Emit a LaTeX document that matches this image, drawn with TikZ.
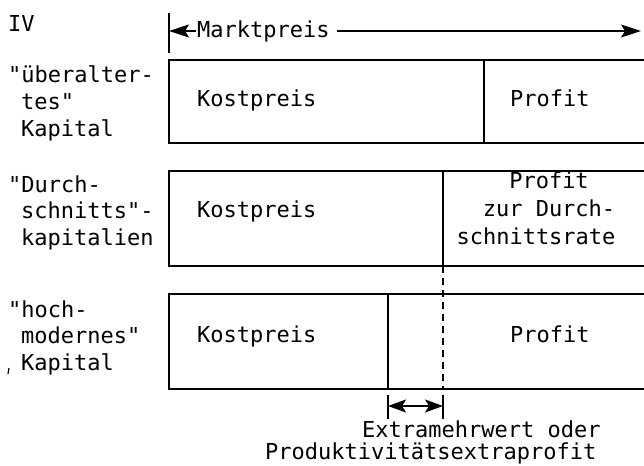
\documentclass[tikz,border=0pt]{standalone}
\usepackage{fontspec}
\setmonofont{DejaVu Sans Mono}
\usetikzlibrary{arrows.meta}
\begin{document}
\begin{tikzpicture}[x=1pt,y=-1pt,
  txt/.style={font=\ttfamily\fontsize{22}{27}\selectfont, inner sep=0pt, anchor=base west},
  boxline/.style={line width=2pt},
  thinline/.style={line width=1.5pt},
  tipend/.style={-{Stealth[length=20pt,width=13pt,inset=4pt]}},
  tipstart/.style={{Stealth[length=20pt,width=13pt,inset=4pt]}-},
  tipboth/.style={{Stealth[length=18pt,width=13pt,inset=4pt]}-{Stealth[length=18pt,width=13pt,inset=4pt]}}]
\useasboundingbox[fill=white] (0,0) rectangle (644,465);

% header
\node[txt] (iv) at (8,32) {IV};
\node[txt] (mp) at (197,38) {Marktpreis};
\coordinate (mpl) at (169,31);
\coordinate (mpr) at (641,31);
\coordinate (tickt) at (169,13);
\coordinate (tickb) at (169,53);
\draw[thinline] (tickt) -- (tickb);
\draw[thinline,tipstart] (mpl) -- ([xshift=-1pt]mp.west |- mpl);
\draw[thinline,tipend] ([xshift=7pt]mp.east |- mpr) -- (mpr);

% row 1
\draw[boxline] (644,60) -| (169,143) -- (644,143);
\draw[boxline] (484,60) -- (484,143);
\node[txt] (k1) at (197,107) {Kostpreis};
\node[txt] (p1) at (510,107) {Profit};
\node[txt] (l1a) at (8,83) {"überalter-};
\node[txt] (l1b) at (21,110) {tes"};
\node[txt] (l1c) at (21,137) {Kapital};

% row 2
\draw[boxline] (644,171) -| (169,266) -- (644,266);
\draw[boxline] (443,171) -- (443,266);
\node[txt] (k2) at (197,217) {Kostpreis};
\node[txt,anchor=base] (p2a) at (549,188) {Profit};
\node[txt,anchor=base] (p2b) at (549,216) {zur Durch-};
\node[txt,anchor=base] (p2c) at (536,244) {schnittsrate};
\node[txt] (l2a) at (8,192) {"Durch-};
\node[txt] (l2b) at (21,218) {schnitts"-};
\node[txt] (l2c) at (21,245) {kapitalien};

% row 3
\draw[boxline] (644,294) -| (169,389) -- (644,389);
\draw[boxline] (388,294) -- (388,389);
\draw[thinline,dash pattern=on 7pt off 5pt] (443,266) -- (443,389);
\node[txt] (k3) at (197,342) {Kostpreis};
\node[txt] (p3) at (510,342) {Profit};
\node[txt] (l3a) at (8,317) {"hoch-};
\node[txt] (l3b) at (21,343) {modernes"};
\node[txt] (l3c) at (21,370) {Kapital};
\draw[line width=1.2pt] (9,368) -- (8,374);

% bracket
\coordinate (bl) at (388,406);
\coordinate (br) at (443,406);
\draw[thinline] (388,395) -- (388,419);
\draw[thinline] (443,395) -- (443,419);
\draw[thinline,tipboth] (bl) -- (br);
\node[txt] (e1) at (362,437) {Extramehrwert oder};
\node[txt] (e2) at (265,459) {Produktivitätsextraprofit};
\end{tikzpicture}
\end{document}
